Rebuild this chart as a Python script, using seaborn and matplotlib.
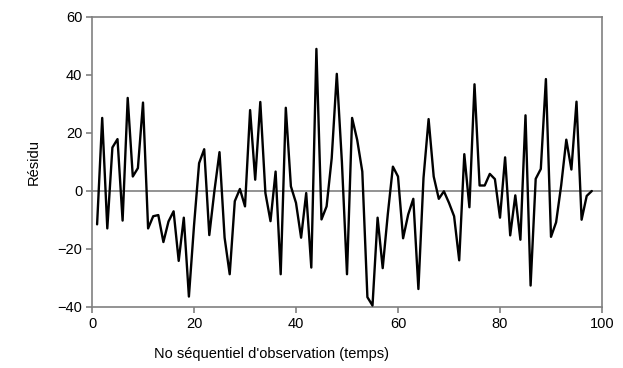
import numpy as np
import pandas as pd
import matplotlib
matplotlib.use("Agg")
import matplotlib.pyplot as plt
import seaborn as sns

observation = list(range(1, 99))
residu = [
    -11.5, 25.2, -12.9, 15.0, 17.9, -10.2, 32.1, 5.0, 7.9, 30.5,
    -12.9, -8.7, -8.3, -17.6, -10.5, -7.0, -24.1, -9.2, -36.4, -12.0,
    9.6, 14.4, -15.2, 0.0, 13.4, -16.1, -28.7, -3.5, 0.7, -5.3,
    27.9, 3.9, 30.7, -0.7, -10.4, 6.7, -28.7, 28.7, 1.6, -4.1,
    -16.1, -0.7, -26.4, 49.0, -9.8, -5.3, 11.3, 40.4, 10.0, -28.7,
    25.2, 17.6, 6.7, -36.6, -39.5, -9.2, -26.6, -8.0, 8.4, 5.0,
    -16.3, -8.1, -2.7, -33.8, 4.5, 24.8, 5.0, -2.7, -0.1, -4.1,
    -8.7, -23.9, 12.7, -5.6, 36.8, 1.9, 1.9, 5.9, 4.1, -9.2,
    11.6, -15.3, -1.5, -16.8, 26.1, -32.6, 4.2, 7.6, 38.6, -15.8,
    -10.8, 2.0, 17.7, 7.4, 30.8, -9.9, -1.7, 0.0,
]
x_ticks = [0, 20, 40, 60, 80, 100]
y_ticks = [-40, -20, 0, 20, 40, 60]
x_label = "No séquentiel d'observation (temps)"
y_label = "Résidu"

df = pd.DataFrame({"obs": observation, "res": residu})

sns.set_theme(style="white")
plt.rcParams["font.family"] = ["Liberation Sans", "DejaVu Sans"]

fig = plt.figure(figsize=(6.23, 3.68), dpi=100)
ax = fig.add_axes([92 / 623, 1 - 307 / 368, (602 - 92) / 623, (307 - 17) / 368])

gray = "#808080"
ax.axhline(0, color=gray, lw=1.2, zorder=1)
sns.lineplot(data=df, x="obs", y="res", ax=ax, color="black", lw=1.7, zorder=3)

ax.set_xlim(0, 100)
ax.set_ylim(-40, 60)
ax.set_xticks(x_ticks)
ax.set_yticks(y_ticks)
ax.set_xlabel(x_label, fontsize=10.5, color="black")
ax.set_ylabel(y_label, fontsize=10.5, color="black")
ax.xaxis.set_label_coords(0.351, -0.138)
ax.yaxis.set_label_coords(-0.100, 0.5)
for sp in ax.spines.values():
    sp.set_color(gray)
    sp.set_linewidth(1.2)
ax.tick_params(axis="both", which="major", direction="out", length=4, width=1.2,
               color=gray, labelsize=10.5, labelcolor="black", pad=3,
               bottom=True, left=True)

fig.savefig("out.png", dpi=100, facecolor="white")
